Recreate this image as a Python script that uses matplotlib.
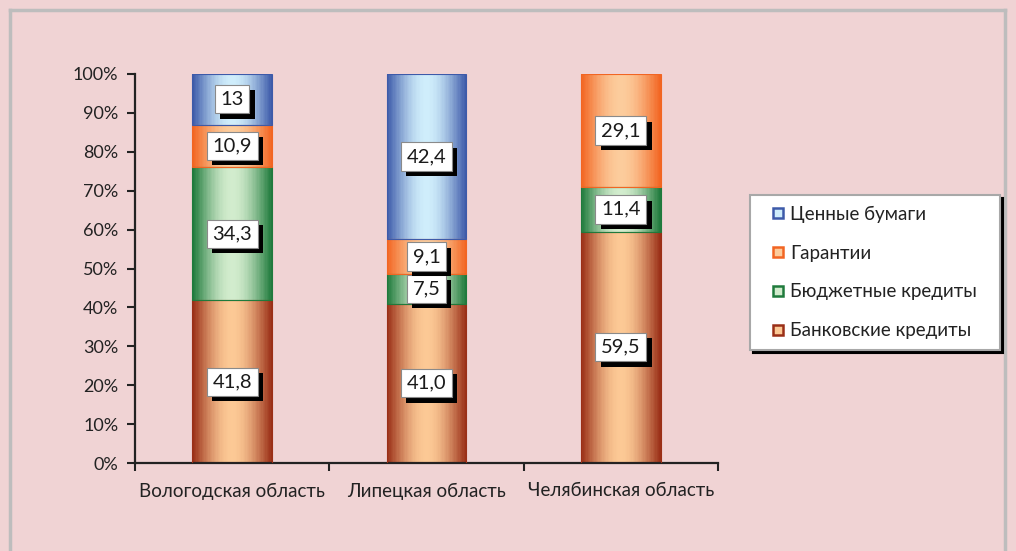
import numpy as np
import matplotlib
matplotlib.use("Agg")
import matplotlib.pyplot as plt
from matplotlib import patheffects
from matplotlib.lines import Line2D
from matplotlib.colors import to_rgb
from matplotlib.ticker import PercentFormatter, FixedLocator

plt.rcParams['font.family'] = ['Lato', 'DejaVu Sans']

regions = ["Вологодская область", "Липецкая область", "Челябинская область"]
series = ["Банковские кредиты", "Бюджетные кредиты", "Гарантии", "Ценные бумаги"]
bank = [41.8, 41.0, 59.5]
budget = [34.3, 7.5, 11.4]
guarant = [10.9, 9.1, 29.1]
papers = [13.0, 42.4, 0.0]
labels = [["41,8", "41,0", "59,5"],
          ["34,3", "7,5", "11,4"],
          ["10,9", "9,1", "29,1"],
          ["13", "42,4", ""]]

edge_colors = ["#9A2F17", "#1F7A3C", "#F26522", "#3D5AA9"]
center_colors = ["#FCC995", "#D2ECCD", "#FCCC9C", "#CFEDFB"]

bg = "#F0D3D4"
fig = plt.figure(figsize=(10.16, 5.51), dpi=100, facecolor=bg)
ax = fig.add_axes([135 / 1016, 1 - 463 / 551, (718 - 135) / 1016, (463 - 74) / 551])
ax.set_facecolor(bg)

x = np.arange(len(regions))
width = 0.41
n_strips = 60
sw = width / n_strips
prof = np.sin(np.pi * (np.arange(n_strips) + 0.5) / n_strips) ** 1.1

bottoms = np.zeros(len(regions))
for vals, ec, cc, labs in zip([bank, budget, guarant, papers], edge_colors, center_colors, labels):
    vals = np.array(vals)
    e = np.array(to_rgb(ec))
    c = np.array(to_rgb(cc))
    # cylinder-like shading: dark edges, light middle
    for i, p in enumerate(prof):
        ax.bar(x - width / 2 + i * sw, vals, sw * 1.02, bottom=bottoms, align='edge',
               color=e + (c - e) * p, linewidth=0, antialiased=False, zorder=2)
    m = vals > 0
    ax.bar(x[m], vals[m], width, bottom=bottoms[m], fill=False, edgecolor=ec, linewidth=0.8, zorder=3)
    for xi, v, b0, lab in zip(x, vals, bottoms, labs):
        if v <= 0:
            continue
        txt = ax.text(xi, b0 + v / 2, lab, ha='center', va='center', fontsize=14.5,
                      color='#1a1a1a', zorder=5,
                      bbox=dict(boxstyle='square,pad=0.28', fc='white', ec='#8a8a8a', lw=0.8))
        txt.get_bbox_patch().set_path_effects(
            [patheffects.SimplePatchShadow(offset=(3.8, -3.8), shadow_rgbFace='black', alpha=1),
             patheffects.Normal()])
    bottoms += vals

ax.set_xlim(-0.5, 2.5)
ax.set_ylim(0, 100)
ax.set_yticks(np.arange(0, 101, 10))
ax.yaxis.set_major_formatter(PercentFormatter(decimals=0))
ax.set_xticks(x)
ax.set_xticklabels(regions)
ax.xaxis.set_minor_locator(FixedLocator([-0.5, 0.5, 1.5, 2.5]))
ax.tick_params(axis='x', which='major', length=0, pad=14, labelsize=13.5, colors='#222222')
ax.tick_params(axis='x', which='minor', length=6, width=1.5, color='#222222', direction='out')
ax.tick_params(axis='y', length=6, width=1.5, color='#222222', labelsize=13,
               labelcolor='#222222', pad=6)
for s in ['top', 'right']:
    ax.spines[s].set_visible(False)
for s in ['left', 'bottom']:
    ax.spines[s].set_color('#222222')
    ax.spines[s].set_linewidth(1.6)

handles = [Line2D([], [], linestyle='none', marker='s', markersize=7.5, markerfacecolor=cc,
                  markeredgecolor=ec, markeredgewidth=1.8, label=s)
           for s, ec, cc in zip(series, edge_colors, center_colors)][::-1]
leg = fig.legend(handles=handles, loc='upper left',
                 bbox_to_anchor=(750 / 1016, (551 - 350) / 551, 250 / 1016, 155 / 551),
                 mode='expand', frameon=True, fancybox=False,
                 shadow={'color': 'black', 'alpha': 1},
                 fontsize=13.5, labelspacing=1.17, handlelength=1.87,
                 handletextpad=-0.29, borderpad=0.56, borderaxespad=0)
leg.get_frame().set_edgecolor('#A8A8A8')
leg.get_frame().set_linewidth(1.5)
for txt in leg.get_texts():
    txt.set_color('#222222')

fc = '#BDBDBD'
fig.add_artist(Line2D([10 / 1016, 1005 / 1016], [1 - 10 / 551, 1 - 10 / 551], color=fc, lw=2.5, transform=fig.transFigure))
fig.add_artist(Line2D([10 / 1016, 10 / 1016], [0, 1 - 10 / 551], color=fc, lw=2.5, transform=fig.transFigure))
fig.add_artist(Line2D([1005 / 1016, 1005 / 1016], [0, 1 - 10 / 551], color=fc, lw=2.5, transform=fig.transFigure))

fig.savefig("out.png", dpi=100, facecolor=bg)
